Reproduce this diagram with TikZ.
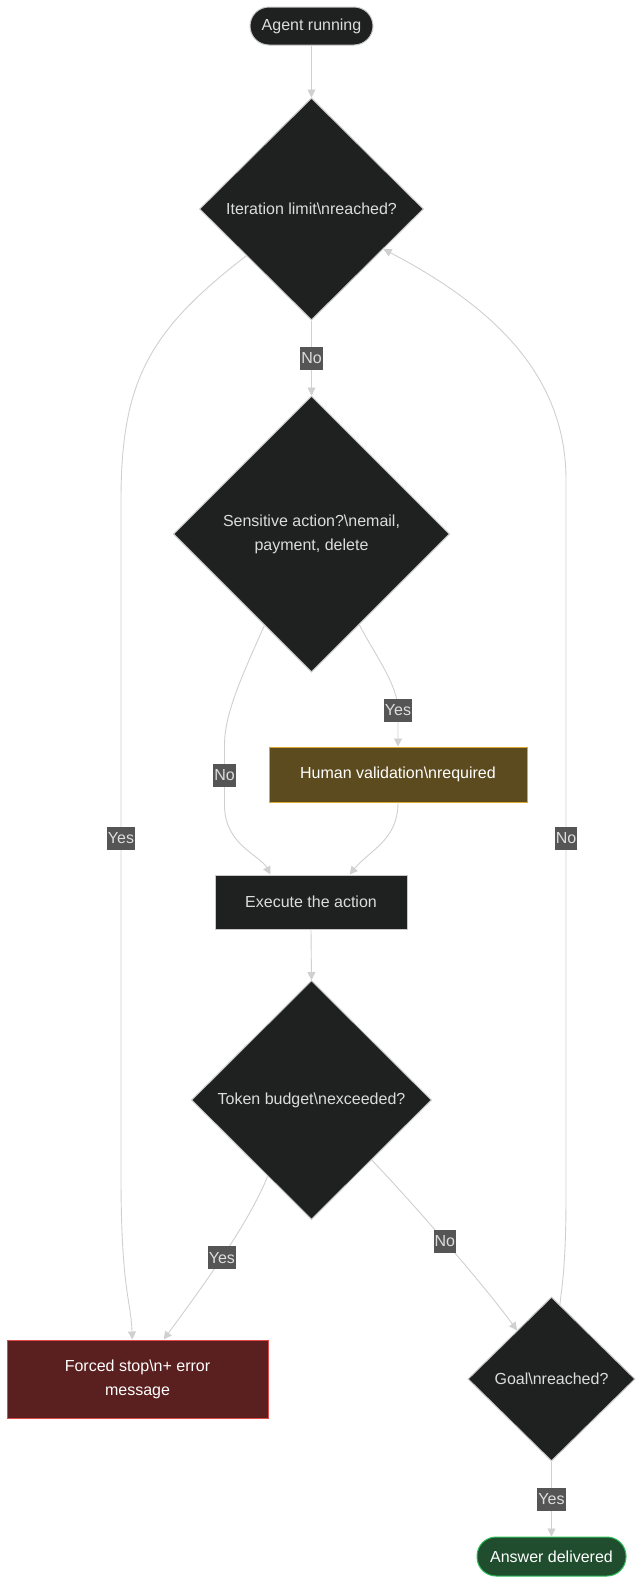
\documentclass[tikz,border=0pt]{standalone}
\usepackage{fontspec}
\setmainfont{Liberation Sans}
\usetikzlibrary{shapes.geometric,arrows.meta,calc}
\definecolor{nodefill}{HTML}{1F2020}
\definecolor{nodeline}{HTML}{C8C8C8}
\definecolor{nodetext}{HTML}{DCDCDC}
\definecolor{humfill}{HTML}{5C4B1E}
\definecolor{humline}{HTML}{D9A92E}
\definecolor{stopfill}{HTML}{5A1F1F}
\definecolor{stopline}{HTML}{E04848}
\definecolor{ansfill}{HTML}{1F4D2E}
\definecolor{ansline}{HTML}{2FBF5A}
\definecolor{edgecol}{HTML}{D0D0D0}
\definecolor{lblfill}{HTML}{555555}
\definecolor{lbltext}{HTML}{DDDDDD}
\begin{document}
\begin{tikzpicture}[x=1pt,y=-1pt,
  every node/.style={font=\fontsize{16}{24}\selectfont},
  base/.style={draw=nodeline, line width=1pt, fill=nodefill, text=nodetext, inner sep=0pt, align=center},
  pill/.style={base, rectangle, rounded corners=19pt},
  boxnode/.style={base, rectangle},
  dia/.style={base, diamond, shape aspect=1},
  edge/.style={draw=edgecol, line width=0.9pt, -{Triangle[width=8pt,length=8pt]}},
  lbl/.style={fill=lblfill, text=lbltext, inner xsep=1pt, inner ysep=0pt, minimum height=23pt}]
\useasboundingbox[fill=white] (0,0) rectangle (644,1585);

\node[pill, minimum width=123pt, minimum height=38pt] (agent) at (311.5,26) {Agent running};
\node[dia, minimum width=224pt, minimum height=222pt] (d1) at (311.5,209) {Iteration limit\textbackslash nreached?};
\node[dia, minimum width=276pt, minimum height=276pt] (d2) at (311.5,534) {Sensitive action?\textbackslash nemail,\\payment, delete};
\node[boxnode, fill=humfill, draw=humline, text=white, minimum width=258pt, minimum height=55pt] (human) at (398,774.5) {Human validation\textbackslash nrequired};
\node[boxnode, minimum width=192pt, minimum height=54pt] (exec) at (311,902) {Execute the action};
\node[dia, minimum width=240pt, minimum height=239pt] (d3) at (311.5,1100) {Token budget\textbackslash nexceeded?};
\node[boxnode, fill=stopfill, draw=stopline, text=white, minimum width=261pt, minimum height=78pt] (stop) at (137.5,1379) {Forced stop\textbackslash n+ error\\message};
\node[dia, minimum width=167pt, minimum height=164pt] (goal) at (551.5,1379) {Goal\textbackslash nreached?};
\node[pill, fill=ansfill, draw=ansline, text=white, minimum width=149pt, minimum height=39pt] (answer) at (551.5,1556.5) {Answer delivered};

% straight edges
\draw[edge] (agent.south) -- (d1.north);
\draw[edge] (d1.south) -- node[lbl]{No} (d2.north);
\draw[edge] (exec.south) -- (d3.north);
\draw[edge] (goal.south) -- node[lbl]{Yes} (answer.north);

% D1 -> stop (Yes)
\draw[edge] ($(d1.west)!0.42!(d1.south)$) .. controls (150,330) and (121,380) .. (121,500)
  -- node[lbl]{Yes} (121,1176) .. controls (121,1290) and (131,1300) .. ($(stop.north west)!0.48!(stop.north east)$);

% D2 -> human (Yes)
\draw[edge] ($(d2.east)!0.655!(d2.south)$) .. controls (375,655) and (398,685) .. (398,710) node[lbl]{Yes} -- (human.north);

% D2 -> exec (No)
\draw[edge] ($(d2.west)!0.66!(d2.south)$) .. controls (240,680) and (224.5,715) .. (224.5,745)
  -- node[lbl]{No} (224.5,805) .. controls (224.5,845) and (260,855) .. ($(exec.north west)!0.29!(exec.north east)$);

% human -> exec
\draw[edge] (human.south) .. controls (398,840) and (370,850) .. ($(exec.north west)!0.7!(exec.north east)$);

% D3 -> stop (Yes)
\draw[edge] ($(d3.west)!0.636!(d3.south)$) .. controls (248,1225) and (200,1290) .. node[lbl, pos=0.5]{Yes} ($(stop.north west)!0.6!(stop.north east)$);

% D3 -> goal (No)
\draw[edge] ($(d3.east)!0.5!(d3.south)$) .. controls (410,1200) and (480,1280) .. node[lbl, pos=0.5]{No} ($(goal.north)!0.41!(goal.west)$);

% goal -> D1 (No)
\draw[edge] ($(goal.north)!0.1!(goal.east)$) .. controls (562,1285) and (566,1265) .. (566,1196)
  -- node[lbl]{No} (566,480) .. controls (566,380) and (500,310) .. ($(d1.east)!0.36!(d1.south)$);
\end{tikzpicture}
\end{document}
